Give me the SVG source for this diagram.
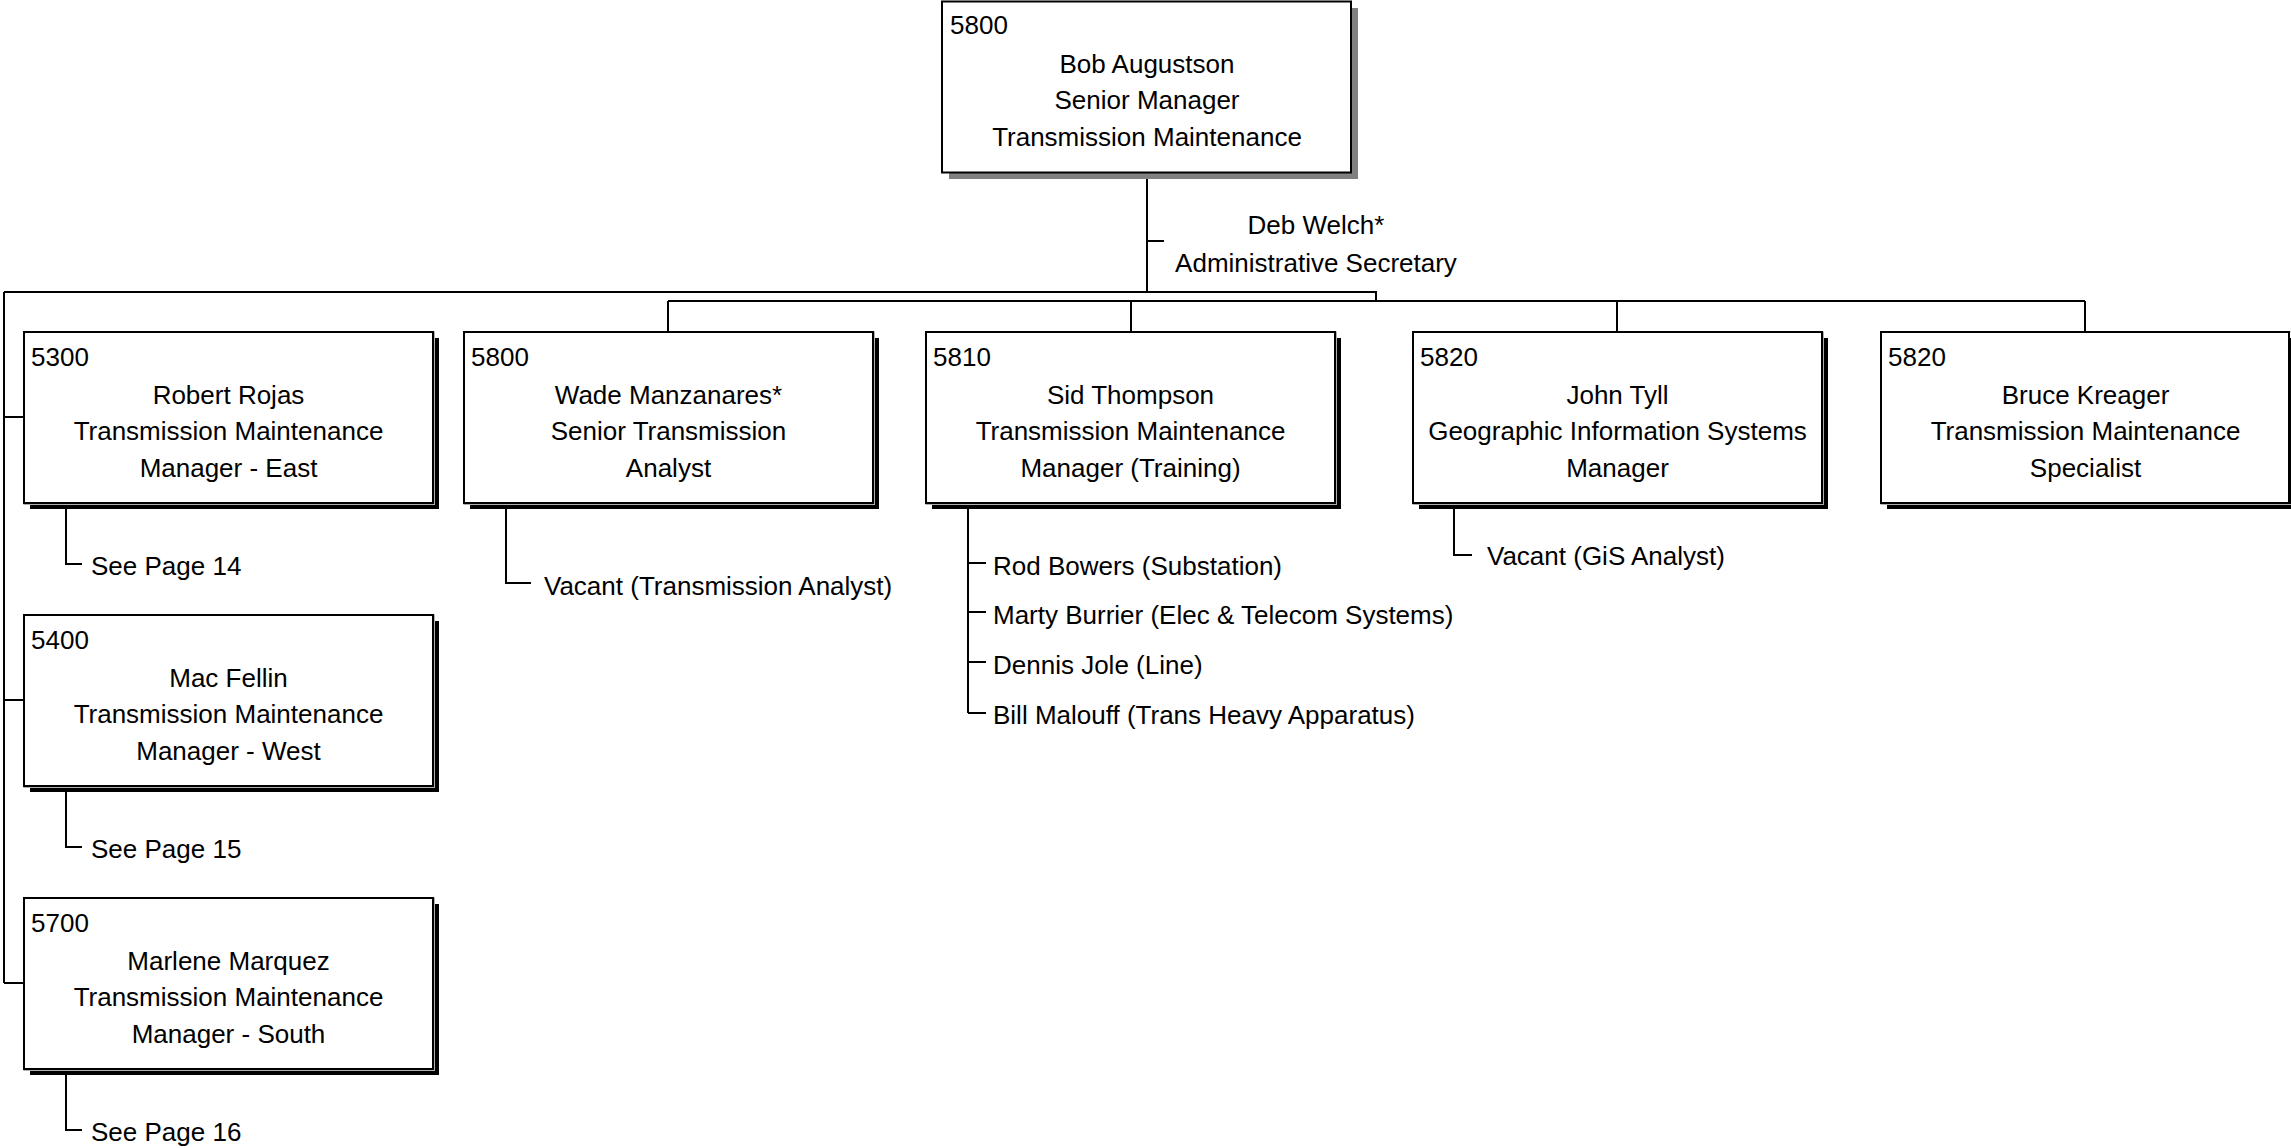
<svg xmlns="http://www.w3.org/2000/svg" width="2291" height="1148" viewBox="0 0 2291 1148">
<style>
  text { font-family: "Liberation Sans", Arial, sans-serif; font-size: 26px; fill: #000; }
  .c { text-anchor: middle; }
  .box { fill: #fff; stroke: #000; stroke-width: 2; }
  .sh { fill: #000; }
  .shg { fill: #808080; }
  .hl { fill: none; stroke: #b0b0b0; stroke-width: 1; }
  .ln { fill: none; stroke: #000; stroke-width: 2; }
</style>
<rect width="2291" height="1148" fill="#fff"/>

<g id="connectors">
  <path class="ln" d="M1147,172 V292 M1147,241 H1164"/>
  <path class="ln" d="M4,292 H1376 V301 M668,301 H2085 M668,301 V332 M1131,301 V332 M1617,301 V332 M2085,301 V332"/>
  <path class="ln" d="M4,292 V983 M4,417 H24 M4,700 H24 M4,983 H24"/>
  <path class="ln" d="M66,503 V564 H82 M66,786 V847 H82 M66,1069 V1130 H82"/>
  <path class="ln" d="M506,503 V583 H531"/>
  <path class="ln" d="M968,503 V713 M968,563 H986 M968,612 H986 M968,662 H986 M968,713 H986"/>
  <path class="ln" d="M1454,503 V555 H1472"/>
</g>

<g id="n5800top">
  <rect class="shg" x="949" y="8" width="409" height="171"/>
  <rect class="box" x="942" y="1.5" width="409" height="171"/>
  <text x="950" y="34">5800</text>
  <text class="c" x="1147" y="73">Bob Augustson</text>
  <text class="c" x="1147" y="109">Senior Manager</text>
  <text class="c" x="1147" y="146">Transmission Maintenance</text>
</g>

<g id="deb">
  <text class="c" x="1316" y="234">Deb Welch*</text>
  <text class="c" x="1316" y="272">Administrative Secretary</text>
</g>

<g id="n5300">
  <rect class="sh" x="30" y="338" width="409" height="171"/>
  <rect class="hl" x="24" y="332" width="410.5" height="172.5"/>
  <rect class="box" x="24" y="332" width="409" height="171"/>
  <text x="31" y="366">5300</text>
  <text class="c" x="228.5" y="404">Robert Rojas</text>
  <text class="c" x="228.5" y="440">Transmission Maintenance</text>
  <text class="c" x="228.5" y="477">Manager - East</text>
</g>
<text x="91" y="575">See Page 14</text>

<g id="n5400">
  <rect class="sh" x="30" y="621" width="409" height="171"/>
  <rect class="hl" x="24" y="615" width="410.5" height="172.5"/>
  <rect class="box" x="24" y="615" width="409" height="171"/>
  <text x="31" y="649">5400</text>
  <text class="c" x="228.5" y="687">Mac Fellin</text>
  <text class="c" x="228.5" y="723">Transmission Maintenance</text>
  <text class="c" x="228.5" y="760">Manager - West</text>
</g>
<text x="91" y="858">See Page 15</text>

<g id="n5700">
  <rect class="sh" x="30" y="904" width="409" height="171"/>
  <rect class="hl" x="24" y="898" width="410.5" height="172.5"/>
  <rect class="box" x="24" y="898" width="409" height="171"/>
  <text x="31" y="932">5700</text>
  <text class="c" x="228.5" y="970">Marlene Marquez</text>
  <text class="c" x="228.5" y="1006">Transmission Maintenance</text>
  <text class="c" x="228.5" y="1043">Manager - South</text>
</g>
<text x="91" y="1141">See Page 16</text>

<g id="n5800wade">
  <rect class="sh" x="470" y="338" width="409" height="171"/>
  <rect class="hl" x="464" y="332" width="410.5" height="172.5"/>
  <rect class="box" x="464" y="332" width="409" height="171"/>
  <text x="471" y="366">5800</text>
  <text class="c" x="668.5" y="404">Wade Manzanares*</text>
  <text class="c" x="668.5" y="440">Senior Transmission</text>
  <text class="c" x="668.5" y="477">Analyst</text>
</g>
<text x="544" y="595">Vacant (Transmission Analyst)</text>

<g id="n5810">
  <rect class="sh" x="932" y="338" width="409" height="171"/>
  <rect class="hl" x="926" y="332" width="410.5" height="172.5"/>
  <rect class="box" x="926" y="332" width="409" height="171"/>
  <text x="933" y="366">5810</text>
  <text class="c" x="1130.5" y="404">Sid Thompson</text>
  <text class="c" x="1130.5" y="440">Transmission Maintenance</text>
  <text class="c" x="1130.5" y="477">Manager (Training)</text>
</g>
<g id="sid-reports">
  <text x="993" y="575">Rod Bowers (Substation)</text>
  <text x="993" y="624">Marty Burrier (Elec &amp; Telecom Systems)</text>
  <text x="993" y="674">Dennis Jole (Line)</text>
  <text x="993" y="724">Bill Malouff (Trans Heavy Apparatus)</text>
</g>

<g id="n5820gis">
  <rect class="sh" x="1419" y="338" width="409" height="171"/>
  <rect class="hl" x="1413" y="332" width="410.5" height="172.5"/>
  <rect class="box" x="1413" y="332" width="409" height="171"/>
  <text x="1420" y="366">5820</text>
  <text class="c" x="1617.5" y="404">John Tyll</text>
  <text class="c" x="1617.5" y="440">Geographic Information Systems</text>
  <text class="c" x="1617.5" y="477">Manager</text>
</g>
<text x="1487" y="565">Vacant (GiS Analyst)</text>

<g id="n5820bruce">
  <rect class="sh" x="1887" y="338" width="409" height="171"/>
  <rect class="hl" x="1881" y="332" width="410.5" height="172.5"/>
  <rect class="box" x="1881" y="332" width="408" height="171"/>
  <text x="1888" y="366">5820</text>
  <text class="c" x="2085.5" y="404">Bruce Kreager</text>
  <text class="c" x="2085.5" y="440">Transmission Maintenance</text>
  <text class="c" x="2085.5" y="477">Specialist</text>
</g>
</svg>
